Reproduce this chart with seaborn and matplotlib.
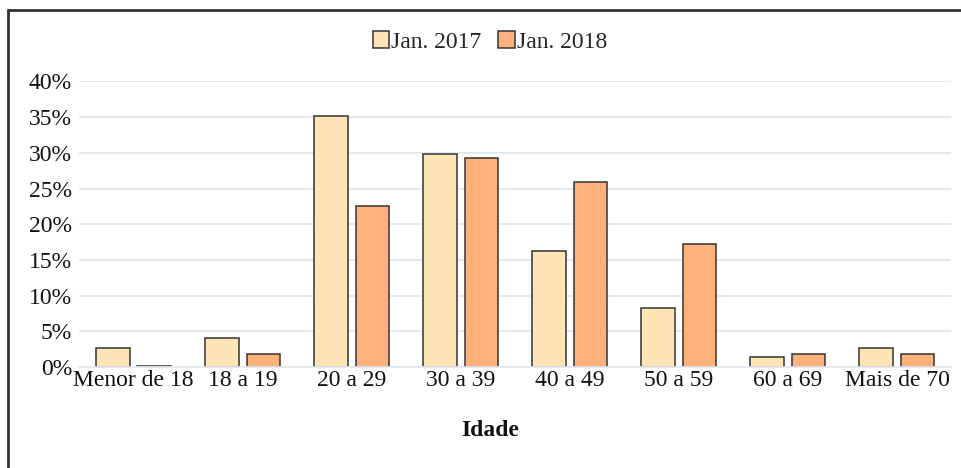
import seaborn as sns
import matplotlib.pyplot as plt
import pandas as pd
from matplotlib.ticker import PercentFormatter

categories = ["Menor de 18", "18 a 19", "20 a 29", "30 a 39", "40 a 49",
              "50 a 59", "60 a 69", "Mais de 70"]
jan_2017 = [2.7, 4.0, 35.1, 29.8, 16.2, 8.2, 1.4, 2.7]
jan_2018 = [0.1, 1.8, 22.5, 29.3, 25.9, 17.3, 1.8, 1.8]
series = ["Jan. 2017", "Jan. 2018"]
colors = ["#FFE4B5", "#FDB27C"]


def main():
    sns.set_theme(style="whitegrid")
    plt.rcParams["font.family"] = ["Liberation Serif", "DejaVu Serif"]

    data = pd.DataFrame({
        "Idade": categories * 2,
        "valor": [v / 100 for v in jan_2017 + jan_2018],
        "serie": [series[0]] * len(categories) + [series[1]] * len(categories),
    })

    fig = plt.figure(figsize=(9.61, 4.68), dpi=100)
    ax = fig.add_axes([0.0822, 0.2158, 0.9079, 0.6101])

    sns.barplot(data=data, x="Idade", y="valor", hue="serie",
                palette=colors, saturation=1, width=0.76, gap=0.19,
                edgecolor="#333333", linewidth=1.1, ax=ax)

    ax.set_ylim(0, 0.40)
    ax.set_xlim(-0.5, len(categories) - 0.5)
    ax.yaxis.set_major_formatter(PercentFormatter(1.0, decimals=0))
    ax.set_yticks([i * 0.05 for i in range(9)])
    ax.grid(axis="y", color="#e4e6ee", linewidth=1.3)
    ax.grid(axis="x", visible=False)
    ax.set_axisbelow(True)
    for side in ["left", "right", "top"]:
        ax.spines[side].set_visible(False)
    ax.spines["bottom"].set_color("#e4e6ee")
    ax.spines["bottom"].set_linewidth(1.3)
    ax.tick_params(axis="both", length=0, labelsize=17, colors="#111111")
    ax.tick_params(axis="y", pad=5)
    ax.tick_params(axis="x", pad=2)
    ax.set_xlabel("")
    ax.set_ylabel("")

    fig.text(490 / 961, 1 - 430 / 468, "Idade", ha="center", va="center",
             fontsize=17, fontweight="bold", color="#111111")

    handles, labels = ax.get_legend_handles_labels()
    ax.legend_.remove()
    fig.legend(handles, labels, loc="center", bbox_to_anchor=(490 / 961, 1 - 42 / 468),
               ncol=2, frameon=False, fontsize=17, handlelength=0.7,
               handleheight=0.7, handletextpad=0.1, columnspacing=0.7)

    # partial frame around the figure (left and top edges)
    fig.add_artist(plt.Line2D([8 / 961, 8 / 961], [0, 1 - 10 / 468],
                              transform=fig.transFigure, color="#333333", linewidth=2))
    fig.add_artist(plt.Line2D([8 / 961, 1], [1 - 10 / 468, 1 - 10 / 468],
                              transform=fig.transFigure, color="#333333", linewidth=2))

    fig.savefig("out.png", dpi=100)


if __name__ == "__main__":
    main()
